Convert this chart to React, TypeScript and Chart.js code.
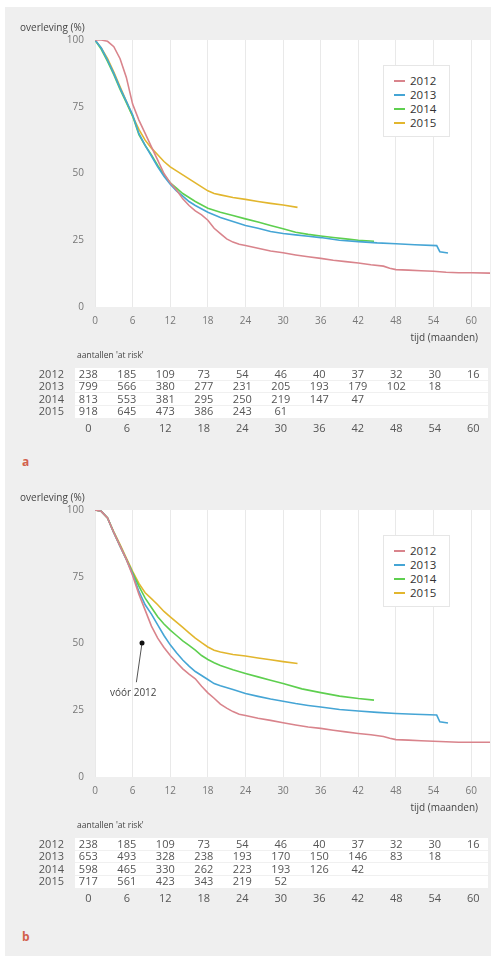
import React, { useEffect, useRef } from "react";
import { Chart, registerables } from "chart.js";
Chart.register(...registerables);

const FONT = "'Open Sans', 'DejaVu Sans', sans-serif";
const YEARS = ["2012", "2013", "2014", "2015"];
const COLORS = ["#d9848c", "#45a5d5", "#5ecf4f", "#e2b62e"];
const X_TICKS = [0, 6, 12, 18, 24, 30, 36, 42, 48, 54, 60];
const Y_TICKS = [0, 25, 50, 75, 100];
const X_MAX = 63;

// ---------- panel a: survival curves ----------
const A_2012_T = [0, 1, 2, 3, 4, 5, 6, 7, 8, 9, 10, 11, 12, 13, 14, 15, 16, 17, 18, 19, 20, 21, 22, 23, 24, 26, 28, 30, 32, 34, 36, 38, 40, 42, 44, 46, 47, 48, 50, 52, 54, 56, 58, 60, 63];
const A_2012_S = [100, 100, 99.5, 97.5, 93, 86, 76, 70, 65, 60, 55, 50, 46.5, 43.8, 40.5, 38, 36, 34.5, 32.5, 29.5, 27.5, 25.5, 24.3, 23.5, 23, 22, 21, 20.3, 19.5, 18.8, 18.2, 17.5, 17, 16.5, 15.8, 15.3, 14.5, 14, 13.8, 13.6, 13.4, 13, 12.8, 12.8, 12.7];
const A_2013_T = [0, 1, 2, 3, 4, 5, 6, 7, 8, 9, 10, 11, 12, 13, 14, 15, 16, 18, 20, 22, 24, 26, 28, 30, 32, 34, 36, 39, 42, 45, 48, 51, 54.5, 55, 56.3];
const A_2013_S = [100, 97, 92.5, 87.5, 82, 77, 72, 65, 60.5, 56.5, 52.5, 49, 46, 43.5, 41.5, 39.5, 38, 35.5, 33.5, 32, 30.5, 29.5, 28.3, 27.5, 27, 26.5, 26, 25, 24.5, 24, 23.7, 23.3, 23, 20.7, 20.2];
const A_2014_T = [0, 1, 2, 3, 4, 5, 6, 7, 8, 9, 10, 11, 12, 13, 14, 15, 16, 18, 20, 22, 24, 26, 28, 30, 32, 34, 36, 38, 40, 42, 44.5];
const A_2014_S = [100, 96.5, 92, 87, 81.5, 76.5, 71.5, 64.5, 60.5, 57, 53, 49.5, 46.5, 44.5, 42.5, 41, 39.5, 37, 35.5, 34.3, 33, 31.8, 30.5, 29.3, 28, 27.2, 26.6, 26, 25.5, 25, 24.6];
const A_2015_T = [0, 1, 2, 3, 4, 5, 6, 7, 8, 9, 10, 11, 12, 13, 14, 15, 16, 17, 18, 19, 20, 22, 24, 26, 28, 30, 32.3];
const A_2015_S = [100, 97, 93, 88, 82.5, 77, 71.5, 66.5, 62.5, 59.5, 57, 54.5, 52.5, 51, 49.5, 48, 46.5, 45, 43.5, 42.5, 42, 41, 40.3, 39.5, 38.8, 38.2, 37.3];

// ---------- panel b: survival curves ----------
const B_2012_T = [0, 1, 2, 3, 4, 5, 6, 7, 8, 9, 10, 11, 12, 13, 14, 15, 16, 17, 18, 19, 20, 21, 22, 23, 24, 26, 28, 30, 32, 34, 36, 38, 40, 42, 44, 46, 47, 48, 50, 52, 54, 56, 58, 60, 63];
const B_2012_S = [100, 99.5, 97, 91.5, 86.5, 81.5, 75.5, 68.5, 62.5, 56.5, 52, 48.5, 45.5, 43, 40.5, 38.5, 36.8, 34, 31.5, 29.5, 27.3, 25.8, 24.5, 23.5, 23, 22, 21.2, 20.3, 19.5, 18.7, 18.2, 17.5, 16.9, 16.3, 15.8, 15.2, 14.5, 14, 13.8, 13.6, 13.4, 13.2, 13, 13, 13];
const B_2013_T = [0, 1, 2, 3, 4, 5, 6, 7, 8, 9, 10, 11, 12, 13, 14, 15, 16, 17, 18, 19, 20, 22, 24, 26, 28, 30, 32, 34, 36, 39, 42, 45, 48, 51, 54.5, 55, 56.3];
const B_2013_S = [100, 99.5, 97, 91.5, 86.5, 81.5, 76, 69.5, 64.5, 61, 57, 53, 49.5, 46.5, 43.8, 41.5, 39.5, 38, 36.5, 35, 34.2, 32.8, 31.3, 30.2, 29.2, 28.4, 27.5, 26.8, 26.2, 25.3, 24.7, 24.2, 23.8, 23.5, 23.2, 20.7, 20.2];
const B_2014_T = [0, 1, 2, 3, 4, 5, 6, 7, 8, 9, 10, 11, 12, 13, 14, 15, 16, 17, 18, 19, 20, 22, 24, 26, 28, 30, 33, 36, 39, 42, 44.5];
const B_2014_S = [100, 99.5, 97, 91.5, 86.5, 81.5, 76.5, 71.5, 67, 63.5, 60, 57.3, 55, 53, 51, 49.3, 47.5, 45.5, 44, 42.8, 41.8, 40.2, 38.8, 37.5, 36.2, 35, 33, 31.6, 30.3, 29.4, 28.8];
const B_2015_T = [0, 1, 2, 3, 4, 5, 6, 7, 8, 9, 10, 11, 12, 13, 14, 15, 16, 17, 18, 19, 20, 22, 24, 26, 28, 30, 32.3];
const B_2015_S = [100, 99.5, 97, 91.8, 87, 82, 77, 72.5, 69, 66.8, 64.5, 62, 60, 58, 56, 54, 52, 50.3, 48.7, 47.5, 46.8, 45.9, 45.3, 44.6, 43.9, 43.2, 42.5];

// ---------- numbers at risk ----------
const RISK_TIMES = [0, 6, 12, 18, 24, 30, 36, 42, 48, 54, 60];
const A_RISK_2012 = [238, 185, 109, 73, 54, 46, 40, 37, 32, 30, 16];
const A_RISK_2013 = [799, 566, 380, 277, 231, 205, 193, 179, 102, 18];
const A_RISK_2014 = [813, 553, 381, 295, 250, 219, 147, 47];
const A_RISK_2015 = [918, 645, 473, 386, 243, 61];
const B_RISK_2012 = [238, 185, 109, 73, 54, 46, 40, 37, 32, 30, 16];
const B_RISK_2013 = [653, 493, 328, 238, 193, 170, 150, 146, 83, 18];
const B_RISK_2014 = [598, 465, 330, 262, 223, 193, 126, 42];
const B_RISK_2015 = [717, 561, 423, 343, 219, 52];

// annotation in panel b (data coordinates: months, %)
const ANNOT_LABEL = "vóór 2012";
const ANNOT_DOT = [7.5, 50.2];
const ANNOT_LINE_END = [6.6, 35.5];
const ANNOT_TEXT_AT = [6.1, 31.3];

const Y_LABEL = "overleving (%)";
const X_LABEL = "tijd (maanden)";
const RISK_TITLE = "aantallen 'at risk'";

type Annot = { label: string; dot: number[]; end: number[]; text: number[] } | null;

function toPoints(t: number[], s: number[]) {
  return t.map((x, i) => ({ x, y: s[i] }));
}

const whiteArea = {
  id: "whiteArea",
  beforeDraw(chart: any) {
    const { ctx, chartArea } = chart;
    ctx.save();
    ctx.fillStyle = "#ffffff";
    ctx.fillRect(chartArea.left, chartArea.top, chartArea.right - chartArea.left, chartArea.bottom - chartArea.top);
    ctx.restore();
  },
};

function KMChart({ series, annot }: { series: { t: number[]; s: number[] }[]; annot: Annot }) {
  const ref = useRef<HTMLCanvasElement>(null);
  useEffect(() => {
    if (!ref.current) return;
    const annotPlugin = {
      id: "annot",
      afterDatasetsDraw(chart: any) {
        if (!annot) return;
        const { ctx, scales } = chart;
        const xs = scales.x, ys = scales.y;
        const dx = xs.getPixelForValue(annot.dot[0]), dy = ys.getPixelForValue(annot.dot[1]);
        const ex = xs.getPixelForValue(annot.end[0]), ey = ys.getPixelForValue(annot.end[1]);
        ctx.save();
        ctx.strokeStyle = "#555";
        ctx.lineWidth = 1;
        ctx.beginPath();
        ctx.moveTo(dx, dy);
        ctx.lineTo(ex, ey);
        ctx.stroke();
        ctx.fillStyle = "#111";
        ctx.beginPath();
        ctx.arc(dx, dy, 2.5, 0, Math.PI * 2);
        ctx.fill();
        ctx.fillStyle = "#444";
        ctx.font = `10px ${FONT}`;
        ctx.textAlign = "center";
        ctx.textBaseline = "middle";
        ctx.fillText(annot.label, xs.getPixelForValue(annot.text[0]), ys.getPixelForValue(annot.text[1]));
        ctx.restore();
      },
    };
    const chart = new Chart(ref.current, {
      type: "line",
      data: {
        datasets: series.map((d, i) => ({
          label: YEARS[i],
          data: toPoints(d.t, d.s),
          borderColor: COLORS[i],
          backgroundColor: COLORS[i],
          borderWidth: 1.6,
          pointRadius: 0,
          tension: 0,
        })),
      },
      options: {
        animation: false,
        responsive: false,
        devicePixelRatio: 1,
        parsing: false as any,
        layout: { padding: { top: 40, right: 1, left: 0, bottom: 0 } },
        plugins: { legend: { display: false }, tooltip: { enabled: false } },
        scales: {
          x: {
            type: "linear",
            min: 0,
            max: X_MAX,
            afterBuildTicks: (s: any) => {
              s.ticks = X_TICKS.map((v) => ({ value: v }));
            },
            afterFit: (s: any) => {
              s.height = 43;
            },
            grid: { color: "#e9e9e9", drawTicks: false, lineWidth: 1 },
            border: { display: false },
            ticks: { padding: 8, color: "#777", font: { family: FONT, size: 10 }, maxRotation: 0, autoSkip: false },
          },
          y: {
            type: "linear",
            min: 0,
            max: 100,
            afterBuildTicks: (s: any) => {
              s.ticks = Y_TICKS.map((v) => ({ value: v }));
            },
            afterFit: (s: any) => {
              s.width = 95;
            },
            grid: { display: false, drawTicks: false },
            border: { display: false },
            ticks: { padding: 11, color: "#777", font: { family: FONT, size: 10 } },
          },
        },
      },
      plugins: [whiteArea, annotPlugin],
    } as any);
    return () => chart.destroy();
  }, []);
  return <canvas ref={ref} width={491} height={350} style={{ position: "absolute", left: 0, top: 0, width: 491, height: 350 }} />;
}

const COL0 = 88.3;
const COL_STEP = 38.5;
const ROW_TOP = 368;
const ROW_H = 12.4;

function Panel({ top, series, risk, letter, letterTop, annot }: any) {
  return (
    <div style={{ position: "absolute", left: 0, top, width: 491, height: 470 }}>
      <KMChart series={series} annot={annot} />
      <div style={{ position: "absolute", left: 20, top: 21, fontSize: 10, color: "#444", whiteSpace: "nowrap", lineHeight: "12px" }}>{Y_LABEL}</div>
      <div style={{ position: "absolute", right: 491 - 478, top: 331, fontSize: 10, color: "#444", whiteSpace: "nowrap", lineHeight: "12px" }}>{X_LABEL}</div>
      {/* legend */}
      <div style={{ position: "absolute", left: 383, top: 65, width: 67, height: 72, background: "#fff", border: "1px solid #e6e6e6", boxSizing: "border-box" }}>
        {YEARS.map((y, i) => (
          <div key={y} style={{ position: "absolute", left: 0, top: 8 + i * 14, height: 14, width: 66 }}>
            <div style={{ position: "absolute", left: 10, top: 6, width: 11, height: 2, background: COLORS[i] }} />
            <div style={{ position: "absolute", left: 26, top: 0, fontSize: 11.5, lineHeight: "14px", color: "#333" }}>{y}</div>
          </div>
        ))}
      </div>
      {/* risk table */}
      <div style={{ position: "absolute", left: 77, top: 350, fontSize: 8.5, lineHeight: "10px", color: "#444", whiteSpace: "nowrap" }}>{RISK_TITLE}</div>
      <div style={{ position: "absolute", left: 75, top: ROW_TOP, width: 413, height: ROW_H * 4, background: "#fff" }} />
      {risk.map((row: number[], r: number) => (
        <React.Fragment key={r}>
          {r < 3 && (
            <div style={{ position: "absolute", left: 75, top: ROW_TOP + (r + 1) * ROW_H - 0.5, width: 413, height: 1, background: "#f0f0f0" }} />
          )}
          <div style={{ position: "absolute", left: 0, width: 64, textAlign: "right", top: ROW_TOP + r * ROW_H, height: ROW_H, lineHeight: `${ROW_H}px`, fontSize: 11, color: "#555" }}>{YEARS[r]}</div>
          {row.map((v: number, c: number) => (
            <div key={c} style={{ position: "absolute", left: COL0 + c * COL_STEP - 18, width: 36, textAlign: "center", top: ROW_TOP + r * ROW_H, height: ROW_H, lineHeight: `${ROW_H}px`, fontSize: 11, color: "#555" }}>{v}</div>
          ))}
        </React.Fragment>
      ))}
      {RISK_TIMES.map((v, c) => (
        <div key={c} style={{ position: "absolute", left: COL0 + c * COL_STEP - 18, width: 36, textAlign: "center", top: 422, height: 12, lineHeight: "12px", fontSize: 11, color: "#555" }}>{v}</div>
      ))}
      <div style={{ position: "absolute", left: 22, top: letterTop, fontSize: 12, fontWeight: "bold", color: "#d2604c", lineHeight: "14px" }}>{letter}</div>
    </div>
  );
}

export default function App() {
  const seriesA = [
    { t: A_2012_T, s: A_2012_S },
    { t: A_2013_T, s: A_2013_S },
    { t: A_2014_T, s: A_2014_S },
    { t: A_2015_T, s: A_2015_S },
  ];
  const seriesB = [
    { t: B_2012_T, s: B_2012_S },
    { t: B_2013_T, s: B_2013_S },
    { t: B_2014_T, s: B_2014_S },
    { t: B_2015_T, s: B_2015_S },
  ];
  const riskA = [A_RISK_2012, A_RISK_2013, A_RISK_2014, A_RISK_2015];
  const riskB = [B_RISK_2012, B_RISK_2013, B_RISK_2014, B_RISK_2015];
  return (
    <div style={{ position: "absolute", left: 0, top: 0, width: 491, height: 956, background: "#fff", fontFamily: FONT, overflow: "hidden" }}>
      <div style={{ position: "absolute", left: 5, top: 7, width: 486, height: 949, background: "#efefef" }} />
      <Panel top={0} series={seriesA} risk={riskA} letter="a" letterTop={455} annot={null} />
      <Panel
        top={470}
        series={seriesB}
        risk={riskB}
        letter="b"
        letterTop={460}
        annot={{ label: ANNOT_LABEL, dot: ANNOT_DOT, end: ANNOT_LINE_END, text: ANNOT_TEXT_AT }}
      />
    </div>
  );
}
